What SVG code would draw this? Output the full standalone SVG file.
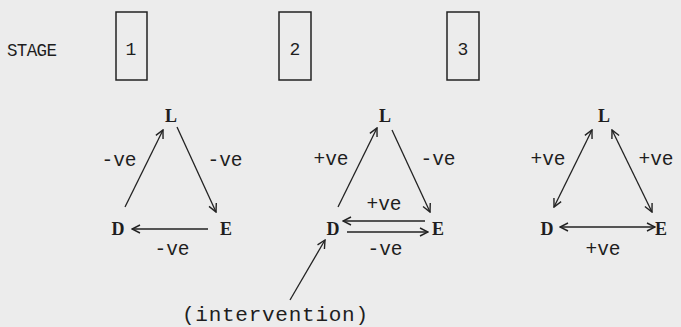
<svg xmlns="http://www.w3.org/2000/svg" width="681" height="327" viewBox="0 0 681 327">
<defs>
<marker id="ah" viewBox="0 0 10 10" refX="9" refY="5" markerWidth="10" markerHeight="10" markerUnits="userSpaceOnUse" orient="auto-start-reverse">
<path d="M1,1 L9,5 L1,9" fill="none" stroke="#222" stroke-width="1.4"/>
</marker>
<style>
.bg{fill:#ececec}
.box{fill:none;stroke:#222;stroke-width:1.5}
.t{font-family:"Liberation Mono","DejaVu Sans Mono",monospace;fill:#1e1e1e}
.n{font-family:"Liberation Serif","DejaVu Serif",serif;font-size:18px;font-weight:bold;text-anchor:middle}
.v{font-size:19.5px;text-anchor:middle}
.s{font-size:17.5px}
.d{font-size:18px;text-anchor:middle}
.ln{stroke:#222;stroke-width:1.3;fill:none;marker-end:url(#ah)}
.bi{marker-start:url(#ah)}
</style>
</defs>
<rect class="bg" x="0" y="0" width="681" height="327"/>
<text class="t s" x="7" y="56" textLength="50">STAGE</text>
<g id="stage1">
<rect class="box" x="116" y="12" width="31" height="68"/>
<text class="t d" x="131" y="55">1</text>
</g>
<g id="stage2">
<rect class="box" x="279" y="12" width="32" height="68"/>
<text class="t d" x="295" y="55">2</text>
</g>
<g id="stage3">
<rect class="box" x="447" y="12" width="32" height="68"/>
<text class="t d" x="463" y="55">3</text>
</g>
<g id="s1-L"><text class="t n" x="171" y="122">L</text></g>
<g id="s1-D"><text class="t n" x="118" y="235">D</text></g>
<g id="s1-E"><text class="t n" x="226" y="235">E</text></g>
<g id="s2-L"><text class="t n" x="385" y="122">L</text></g>
<g id="s2-D"><text class="t n" x="333" y="235">D</text></g>
<g id="s2-E"><text class="t n" x="438" y="235">E</text></g>
<g id="s3-L"><text class="t n" x="604" y="122">L</text></g>
<g id="s3-D"><text class="t n" x="547" y="235">D</text></g>
<g id="s3-E"><text class="t n" x="661" y="235">E</text></g>
<g id="intervention"><text class="t" style="font-size:21px" x="182" y="321" textLength="186">(intervention)</text></g>
<g id="connectors">
<line class="ln" x1="125" y1="207" x2="163" y2="130"/>
<line class="ln" x1="177" y1="127" x2="216" y2="212"/>
<line class="ln" x1="208" y1="229" x2="132" y2="229"/>
<line class="ln" x1="338" y1="207" x2="377" y2="128"/>
<line class="ln" x1="392" y1="130" x2="430" y2="212"/>
<line class="ln" x1="425" y1="221" x2="343" y2="221"/>
<line class="ln" x1="347" y1="232" x2="428" y2="232"/>
<line class="ln" x1="290" y1="300" x2="325" y2="240"/>
<line class="ln bi" x1="554" y1="207" x2="592" y2="130"/>
<line class="ln bi" x1="612" y1="130" x2="652" y2="212"/>
<line class="ln bi" x1="560" y1="227" x2="655" y2="227"/>
<text class="t v" x="119" y="166">-ve</text>
<text class="t v" x="225" y="166">-ve</text>
<text class="t v" x="172" y="255">-ve</text>
<text class="t v" x="331" y="165">+ve</text>
<text class="t v" x="438" y="165">-ve</text>
<text class="t v" x="384" y="210">+ve</text>
<text class="t v" x="385" y="255">-ve</text>
<text class="t v" x="548" y="165">+ve</text>
<text class="t v" x="656" y="165">+ve</text>
<text class="t v" x="603" y="255">+ve</text>
</g>
</svg>
